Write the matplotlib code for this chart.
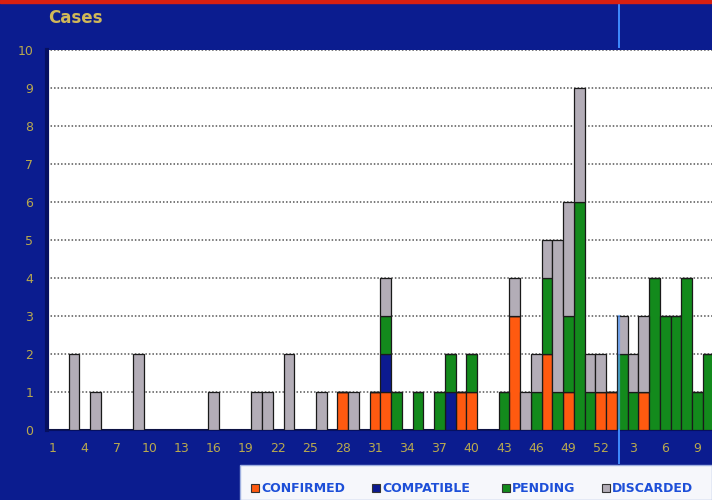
import numpy as np
import matplotlib
matplotlib.use('Agg')
import matplotlib.pyplot as plt
import matplotlib.transforms as mtransforms
from matplotlib.patches import Rectangle
from matplotlib.lines import Line2D

# epidemiological weeks: 1-52 of the first year, then 1-10 of the next
weeks = list(range(1, 53)) + list(range(1, 11))

confirmed = [0, 0, 0, 0, 0, 0, 0, 0, 0, 0,
             0, 0, 0, 0, 0, 0, 0, 0, 0, 0,
             0, 0, 0, 0, 0, 0, 0, 1, 0, 0,
             1, 1, 0, 0, 0, 0, 0, 0, 1, 1,
             0, 0, 0, 3, 0, 0, 2, 0, 1, 0,
             0, 1, 1, 0, 0, 1, 0, 0, 0, 0,
             0, 0]
compatible = [0, 0, 0, 0, 0, 0, 0, 0, 0, 0,
              0, 0, 0, 0, 0, 0, 0, 0, 0, 0,
              0, 0, 0, 0, 0, 0, 0, 0, 0, 0,
              0, 1, 0, 0, 0, 0, 0, 1, 0, 0,
              0, 0, 0, 0, 0, 0, 0, 0, 0, 0,
              0, 0, 0, 0, 0, 0, 0, 0, 0, 0,
              0, 0]
pending = [0, 0, 0, 0, 0, 0, 0, 0, 0, 0,
           0, 0, 0, 0, 0, 0, 0, 0, 0, 0,
           0, 0, 0, 0, 0, 0, 0, 0, 0, 0,
           0, 1, 1, 0, 1, 0, 1, 1, 0, 1,
           0, 0, 1, 0, 0, 1, 2, 1, 2, 6,
           1, 0, 0, 2, 1, 0, 4, 3, 3, 4,
           1, 2]
discarded = [0, 0, 2, 0, 1, 0, 0, 0, 2, 0,
             0, 0, 0, 0, 0, 1, 0, 0, 0, 1,
             1, 0, 2, 0, 0, 1, 0, 0, 1, 0,
             0, 1, 0, 0, 0, 0, 0, 0, 0, 0,
             0, 0, 0, 1, 1, 1, 1, 4, 3, 3,
             1, 1, 0, 1, 1, 2, 0, 0, 0, 0,
             0, 0]

labels = ["CONFIRMED", "COMPATIBLE", "PENDING", "DISCARDED"]
colors = ['#ff5a10', '#0c1a90', '#138a1c', '#b3adb7']

bg = '#0b1c8f'
txt = '#b9a94e'

fig = plt.figure(figsize=(7.12, 5.0), dpi=100, facecolor=bg)
ax = fig.add_axes([47 / 712, 70 / 500, 665 / 712, 380 / 500])
ax.set_facecolor('white')

x = np.arange(1, len(weeks) + 1)
series = [confirmed, compatible, pending, discarded]
bottom = np.zeros(len(weeks))
for vals, c in zip(series, colors):
    vals = np.array(vals)
    ax.bar(x, vals, width=1.0, bottom=bottom, color=c,
           edgecolor='#1a1a1a', linewidth=0.9, zorder=3)
    bottom = bottom + vals

ax.set_ylim(0, 10)
ax.set_xlim(0.49, 62.35)
ax.set_yticks(range(0, 11))
ax.set_yticklabels([str(i) for i in range(0, 11)])
tick_pos = x[::3]
ax.set_xticks(tick_pos)
ax.set_xticklabels([str(weeks[p - 1]) for p in tick_pos])
ax.tick_params(length=0, colors=txt, labelsize=9)
ax.tick_params(axis='y', pad=10)
ax.tick_params(axis='x', pad=9)
ax.yaxis.grid(True, color='#555555', linestyle=(0, (1, 1.3)), linewidth=1.1, zorder=1)
ax.set_axisbelow(True)
for s in ['top', 'right']:
    ax.spines[s].set_visible(False)
ax.spines['bottom'].set_color('#061060')
ax.spines['bottom'].set_linewidth(1.5)
ax.spines['left'].set_color('#061060')
ax.spines['left'].set_linewidth(3)

# title
fig.text(48 / 712, 1 - 18 / 500, "Cases", color='#d0b858', fontsize=12,
         fontweight='bold', va='center', ha='left')

# red strip at the top
fig.add_artist(Rectangle((0, 1 - 3 / 500), 1, 3 / 500, transform=fig.transFigure,
                         color='#d82010', zorder=5))

# light blue vertical line (year separator)
px = 53.74
tr_fig = mtransforms.blended_transform_factory(ax.transData, fig.transFigure)
fig.add_artist(Line2D([px, px], [1, 1 - 47 / 500], transform=tr_fig,
                      color='#3f8cff', linewidth=1.4))
fig.add_artist(Line2D([px, px], [70 / 500, 37 / 500], transform=tr_fig,
                      color='#3f8cff', linewidth=1.4))
ax.plot([px, px], [0, 3], color='#5aa0ff', linewidth=1.6, alpha=0.7, zorder=4)

# legend box
fig.add_artist(Rectangle((240 / 712, 0), 1 - 240 / 712, 35 / 500,
                         transform=fig.transFigure, facecolor='#f6f7fb',
                         edgecolor='#9fb0e0', linewidth=1, zorder=2))
sq_x = [251, 372, 502, 602]
for lab, c, sx in zip(labels, colors, sq_x):
    fig.add_artist(Rectangle((sx / 712, 8 / 500), 8 / 712, 8 / 500,
                             transform=fig.transFigure, facecolor=c,
                             edgecolor='#333333', linewidth=0.8, zorder=3))
    fig.text((sx + 10) / 712, 12 / 500, lab, color='#1d4fd8', fontsize=9,
             fontweight='bold', va='center', ha='left', zorder=3)

fig.savefig('out.png', dpi=100, facecolor=bg)
